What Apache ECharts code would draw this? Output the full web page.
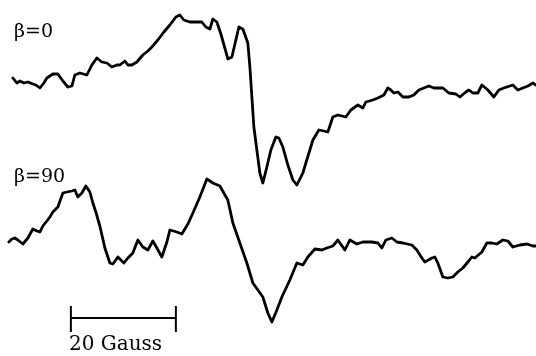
<!DOCTYPE html>
<html>
<head>
<meta charset="utf-8">
<script src="https://cdn.jsdelivr.net/npm/echarts@6/dist/echarts.min.js"></script>
<style>
html,body{margin:0;padding:0;background:#fff;}
#chart{width:536px;height:356px;}
</style>
</head>
<body>
<div id="chart"></div>
<script>
// Field in Gauss (relative), signal in arbitrary units
const beta0 = [
[-11.05,7],[-10.29,2],[-9.71,4],[-8.95,2],[-8.19,3],[-7.24,1],[-6.67,0],[-5.90,-3],[-5.14,2],[-4.57,7],
[-3.43,11],[-2.48,11],[-1.52,4],[-0.57,-2],[0.19,-1],[0.76,10],[1.71,12],[3.05,10],[4.00,20],[4.95,27],
[5.90,23],[6.86,22],[7.81,18],[8.76,20],[9.33,20],[10.29,24],[10.86,20],[11.62,20],[12.57,23],[13.71,30],
[14.67,34],[15.43,38],[16.57,45],[17.71,53],[18.86,60],[20.00,68],[20.76,70],[21.52,65],[22.67,63],[24.00,63],
[24.95,63],[25.71,58],[26.48,56],[27.05,66],[27.81,63],[28.57,51],[29.33,37],[29.90,26],[30.67,28],[31.43,45],
[32.00,58],[32.76,56],[33.71,42],[34.10,18],[34.48,-12],[34.86,-42],[35.43,-65],[36.00,-88],[36.57,-98],[37.33,-82],
[38.10,-65],[39.05,-52],[39.62,-53],[40.38,-62],[41.33,-80],[42.29,-95],[43.05,-100],[44.19,-88],[44.76,-78],[45.52,-65],
[46.10,-55],[47.24,-45],[48.19,-46],[48.95,-47],[49.90,-32],[50.86,-30],[52.38,-32],[53.33,-25],[54.67,-20],[55.62,-23],
[56.19,-17],[57.52,-15],[58.48,-13],[59.62,-10],[60.38,-3],[60.95,-5],[61.52,-8],[62.29,-7],[63.24,-12],[64.38,-12],
[65.33,-10],[66.29,-5],[67.24,-3],[68.19,-1],[69.14,-3],[70.86,-3],[72.00,-8],[73.33,-9],[74.10,-12],[75.24,-7],
[75.81,-5],[76.57,-8],[77.52,-8],[78.29,0],[79.43,-5],[80.57,-12],[81.52,-5],[82.48,-3],[84.19,0],[85.14,-5],
[86.10,-3],[87.05,-1],[88.00,2],[88.57,0]
];
const beta90 = [
[-11.81,3],[-11.24,6],[-10.67,7],[-10.10,5],[-9.14,1],[-8.19,7],[-7.24,16],[-6.48,14],[-5.90,13],[-5.33,19],
[-4.57,24],[-4.00,28],[-3.43,33],[-2.48,38],[-1.52,52],[-0.76,53],[0.19,54],[0.76,55],[1.33,48],[2.10,52],
[2.86,59],[3.62,53],[4.19,42],[4.76,33],[5.52,19],[6.48,-3],[7.43,-18],[8.00,-19],[8.95,-12],[9.52,-15],
[10.10,-18],[10.86,-13],[11.81,-8],[12.76,5],[13.71,-2],[14.67,-5],[15.62,4],[16.38,-3],[17.33,-12],[18.29,3],
[18.86,15],[20.19,13],[21.14,11],[22.29,21],[23.24,32],[24.57,48],[25.90,66],[27.05,62],[28.38,59],[29.90,45],
[30.86,22],[32.19,2],[33.52,-18],[34.67,-38],[35.62,-45],[36.57,-52],[37.52,-68],[38.29,-77],[39.24,-65],[40.19,-52],
[41.71,-35],[43.05,-18],[44.19,-20],[45.14,-12],[46.48,-4],[47.81,-5],[48.76,-3],[49.90,-1],[50.86,5],[52.19,-5],
[53.14,5],[54.48,1],[55.62,3],[57.33,3],[58.48,2],[59.24,-3],[60.00,5],[61.14,7],[62.10,3],[63.24,2],
[64.95,0],[65.90,-5],[66.86,-13],[67.43,-17],[68.76,-13],[69.33,-12],[69.90,-18],[70.86,-32],[71.81,-33],[72.76,-32],
[73.71,-27],[74.67,-23],[75.62,-17],[76.38,-12],[76.95,-13],[78.29,-7],[79.24,2],[80.19,2],[81.14,1],[82.29,5],
[83.24,4],[84.19,-2],[85.52,0],[86.86,1],[88.00,-1],[88.57,-1]
];
const scaleBarGauss = [0, 20];
const labels = ['\u03B2=0', '\u03B2=90'];
const scaleLabel = '20 Gauss';

const xMin = -13.5, xMax = 88.6;
const lineStyle = {color:'#000', width:2.8, join:'round', cap:'round'};
const ax = (i, mn, mx) => ({gridIndex:i, type:'value', min:mn, max:mx, show:false});

const chart = echarts.init(document.getElementById('chart'), null, {renderer:'canvas'});
chart.setOption({
  animation:false,
  backgroundColor:'#fff',
  grid:[
    {left:0, right:0, top:0, height:200},
    {left:0, right:0, top:150, height:206}
  ],
  xAxis:[ax(0,xMin,xMax), ax(1,xMin,xMax)],
  yAxis:[ax(0,-115,85), ax(1,-111,95)],
  series:[
    {type:'line', xAxisIndex:0, yAxisIndex:0, data:beta0, symbol:'none', lineStyle:lineStyle, z:3},
    {type:'line', xAxisIndex:1, yAxisIndex:1, data:beta90, symbol:'none', lineStyle:lineStyle, z:3},
    {type:'line', xAxisIndex:1, yAxisIndex:1, data:[[scaleBarGauss[0],-73],[scaleBarGauss[1],-73]], symbol:'none', lineStyle:{color:'#000', width:2}},
    {type:'line', xAxisIndex:1, yAxisIndex:1, data:[[scaleBarGauss[0],-61],[scaleBarGauss[0],-87]], symbol:'none', lineStyle:{color:'#000', width:2}},
    {type:'line', xAxisIndex:1, yAxisIndex:1, data:[[scaleBarGauss[1],-61],[scaleBarGauss[1],-87]], symbol:'none', lineStyle:{color:'#000', width:2}}
  ],
  graphic:[
    {type:'text', left:14, top:23, style:{text:labels[0], font:'19px "DejaVu Serif"', fill:'#000'}},
    {type:'text', left:14, top:168, style:{text:labels[1], font:'19px "DejaVu Serif"', fill:'#000'}},
    {type:'text', left:69, top:335, style:{text:scaleLabel, font:'20px "DejaVu Serif"', fill:'#000'}}
  ]
});
</script>
</body>
</html>
